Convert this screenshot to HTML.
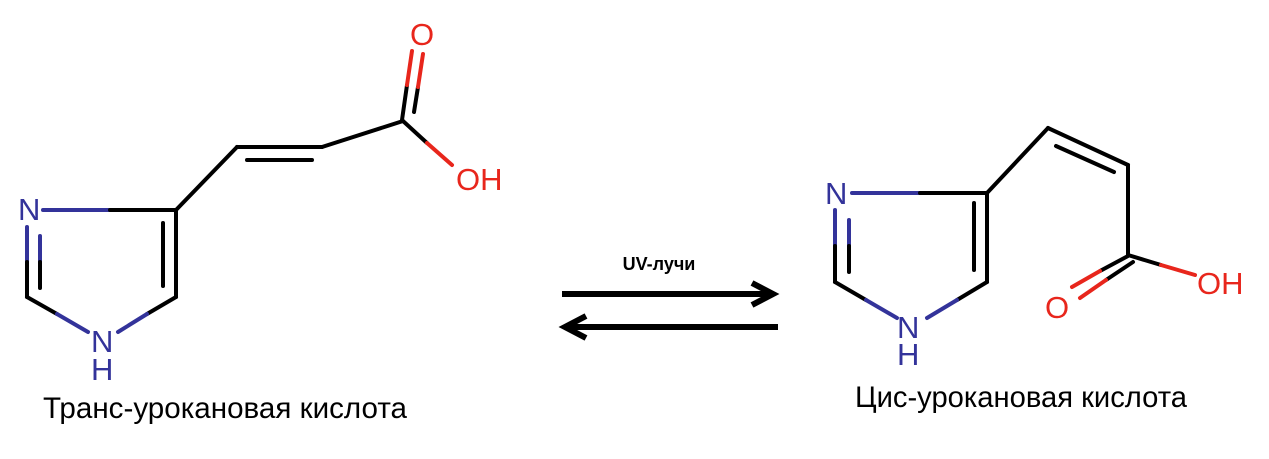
<!DOCTYPE html>
<html><head><meta charset="utf-8"><style>
html,body{margin:0;padding:0;background:#fff;}
svg{display:block}
</style></head><body>
<svg width="1269" height="459" viewBox="0 0 1269 459" xmlns="http://www.w3.org/2000/svg">
<g stroke-width="4" stroke-linecap="round" fill="none">
<!-- Left molecule -->
<line x1="43" y1="210" x2="110" y2="210" stroke="#33339a"/>
<line x1="110" y1="210" x2="176" y2="210" stroke="#000"/>
<line x1="176" y1="210" x2="176" y2="297" stroke="#000"/>
<line x1="163" y1="223" x2="163" y2="286" stroke="#000"/>
<line x1="176" y1="297" x2="147" y2="314" stroke="#000"/>
<line x1="147" y1="314" x2="118" y2="332" stroke="#33339a"/>
<line x1="27" y1="297" x2="57" y2="314" stroke="#000"/>
<line x1="57" y1="314" x2="88" y2="332" stroke="#33339a"/>
<line x1="27" y1="227" x2="27" y2="262" stroke="#33339a"/>
<line x1="27" y1="262" x2="27" y2="297" stroke="#000"/>
<line x1="40" y1="236" x2="40" y2="262" stroke="#33339a"/>
<line x1="40" y1="262" x2="40" y2="288" stroke="#000"/>
<line x1="176" y1="210" x2="237" y2="147" stroke="#000"/>
<line x1="237" y1="147" x2="322" y2="147" stroke="#000"/>
<line x1="247" y1="160" x2="312" y2="160" stroke="#000"/>
<line x1="322" y1="147" x2="403" y2="121" stroke="#000"/>
<line x1="402" y1="120" x2="407" y2="85" stroke="#000"/>
<line x1="407" y1="85" x2="412" y2="51" stroke="#e8261c"/>
<line x1="414" y1="112" x2="418" y2="87" stroke="#000"/>
<line x1="418" y1="87" x2="423" y2="54" stroke="#e8261c"/>
<line x1="403" y1="121" x2="427" y2="143" stroke="#000"/>
<line x1="427" y1="143" x2="452" y2="165" stroke="#e8261c"/>
<!-- Right molecule -->
<line x1="852" y1="193" x2="920" y2="193" stroke="#33339a"/>
<line x1="920" y1="193" x2="987" y2="193" stroke="#000"/>
<line x1="987" y1="193" x2="987" y2="282" stroke="#000"/>
<line x1="974" y1="203" x2="974" y2="270" stroke="#000"/>
<line x1="987" y1="282" x2="957" y2="300" stroke="#000"/>
<line x1="957" y1="300" x2="927" y2="318" stroke="#33339a"/>
<line x1="835" y1="282" x2="866" y2="300" stroke="#000"/>
<line x1="866" y1="300" x2="897" y2="318" stroke="#33339a"/>
<line x1="835" y1="210" x2="835" y2="246" stroke="#33339a"/>
<line x1="835" y1="246" x2="835" y2="282" stroke="#000"/>
<line x1="849" y1="220" x2="849" y2="246" stroke="#33339a"/>
<line x1="849" y1="246" x2="849" y2="272" stroke="#000"/>
<line x1="987" y1="193" x2="1048" y2="128" stroke="#000"/>
<line x1="1048" y1="128" x2="1128" y2="165" stroke="#000"/>
<line x1="1056" y1="146" x2="1114" y2="172" stroke="#000"/>
<line x1="1128" y1="165" x2="1128" y2="255" stroke="#000"/>
<line x1="1128" y1="256" x2="1100" y2="271" stroke="#000"/>
<line x1="1100" y1="271" x2="1072" y2="287" stroke="#e8261c"/>
<line x1="1133" y1="262" x2="1106" y2="280" stroke="#000"/>
<line x1="1106" y1="280" x2="1080" y2="298" stroke="#e8261c"/>
<line x1="1128" y1="255" x2="1161" y2="265" stroke="#000"/>
<line x1="1161" y1="265" x2="1195" y2="275" stroke="#e8261c"/>
</g>
<g font-family="Liberation Sans, sans-serif" font-size="31">
<text x="18" y="220" fill="#33339a">N</text>
<text x="91" y="352" fill="#33339a">N</text>
<text x="91" y="380" fill="#33339a">H</text>
<text x="410" y="45" fill="#e8261c">O</text>
<text x="456" y="190" fill="#e8261c">OH</text>
<text x="825" y="204" fill="#33339a">N</text>
<text x="897" y="338" fill="#33339a">N</text>
<text x="897" y="365" fill="#33339a">H</text>
<text x="1045" y="318" fill="#e8261c">O</text>
<text x="1197" y="294" fill="#e8261c">OH</text>
</g>
<!-- Arrows -->
<g stroke="#000" stroke-width="6" fill="none" stroke-linecap="butt" stroke-linejoin="miter">
<line x1="562" y1="294" x2="773" y2="294"/>
<polyline points="752,283 773,294 752,305"/>
<line x1="565" y1="327" x2="778" y2="327"/>
<polyline points="586,316 565,327 586,338"/>
</g>
<text x="659" y="270" text-anchor="middle" font-family="Liberation Sans, sans-serif" font-weight="bold" font-size="18" fill="#000">UV-лучи</text>
<text x="43" y="418" font-family="Liberation Sans, sans-serif" font-size="30" textLength="364" lengthAdjust="spacingAndGlyphs" fill="#000">Транс-урокановая кислота</text>
<text x="855" y="407" font-family="Liberation Sans, sans-serif" font-size="30" textLength="332" lengthAdjust="spacingAndGlyphs" fill="#000">Цис-урокановая кислота</text>
</svg>
</body></html>
